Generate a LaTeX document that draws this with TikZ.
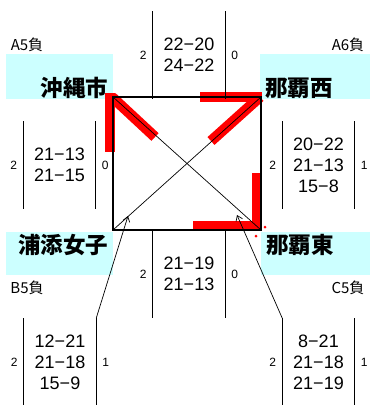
\documentclass[tikz,border=0pt]{standalone}
\usepackage{fontspec}
\setmainfont{Liberation Sans}
\newfontfamily\jpfont{Noto Sans CJK JP}
\usetikzlibrary{arrows.meta}
\definecolor{teamcyan}{RGB}{204,255,255}

\begin{document}
\begin{tikzpicture}[x=1pt,y=-1pt,>={Straight Barb[length=5pt,width=7pt]},
  team/.style={fill=teamcyan,inner xsep=5pt,inner ysep=0pt,anchor=north west,
    font=\jpfont\bfseries\fontsize{22.5}{24}\selectfont},
  score/.style={inner sep=0pt,minimum width=72pt,minimum height=87pt,align=center,
    font=\fontsize{18}{21}\selectfont},
  count/.style={inner xsep=6pt,inner ysep=0pt,font=\fontsize{12}{14}\selectfont},
  lose/.style={font=\jpfont\fontsize{15}{17}\selectfont},
  sep/.style={line width=0.8pt},
  win/.style={red,line width=10.5pt}]
\useasboundingbox (0,0) rectangle (370,405);

\node[team,text width=97pt,align=right,minimum height=45pt,text height=40pt,text depth=0pt] (oki) at (6,54) {沖縄市};
\node[team,text width=100pt,align=left,minimum height=45pt,text height=40pt,text depth=0pt] (nishi) at (260,54) {那覇西};
\node[team,text width=97pt,align=right,minimum height=43pt,text height=20pt,text depth=20pt] (ura) at (6,232) {浦添女子};
\node[team,text width=99pt,align=left,minimum height=43pt,text height=20pt,text depth=20pt] (higa) at (261,232) {那覇東};

\node[lose] (a5) at (27,45) {A5負};
\node[lose] (a6) at (348,45) {A6負};
\node[lose] (b5) at (27,288) {B5負};
\node[lose] (c5) at (348,288) {C5負};

\coordinate (okiC) at (113,97);
\coordinate (nishiC) at (261,97);
\coordinate (uraC) at (113,230);
\coordinate (higaC) at (261,230);
\coordinate (tipL) at (128,216);
\coordinate (tipR) at (237,215);

\draw[win] (110,93) -- (110,152);
\draw[win] (112,97) -- (155,137);
\draw[win] (200,97) -- (262,97);
\draw[win] (260,97) -- (211,141);
\draw[win,miter limit=4] (257,173) -- (257,226) -- (193,226);
\fill[red] (265,227) circle (1.5pt);
\fill[red] (256,236) circle (1.5pt);

\draw[line width=0.7pt] (okiC) -- (higaC);
\draw[line width=0.7pt] (nishiC) -- (uraC);
\draw[line width=2pt] (okiC) rectangle (higaC);

\node[score] (mTop) at (189,55) {22−20\\24−22};
\node[score] (mLeft) at (59.5,165) {21−13\\21−15};
\node[score] (mRight) at (318.5,165) {20−22\\21−13\\15−8};
\node[score] (mBot) at (189,274) {21−19\\21−13};
\node[score] (mBL) at (60,362) {12−21\\21−18\\15−9};
\node[score] (mBR) at (318.5,362) {8−21\\21−18\\21−19};

\foreach \m in {mTop,mLeft,mRight,mBot,mBL,mBR}
  \draw[sep] (\m.north west) -- (\m.south west) (\m.north east) -- (\m.south east);

\node[count,anchor=east] (cTopL) at (mTop.west) {2};
\node[count,anchor=west] (cTopR) at (mTop.east) {0};
\node[count,anchor=east] (cLeftL) at (mLeft.west) {2};
\node[count,anchor=west] (cLeftR) at (mLeft.east) {0};
\node[count,anchor=east] (cRightL) at (mRight.west) {2};
\node[count,anchor=west] (cRightR) at (mRight.east) {1};
\node[count,anchor=east] (cBotL) at (mBot.west) {2};
\node[count,anchor=west] (cBotR) at (mBot.east) {0};
\node[count,anchor=east] (cBLL) at (mBL.west) {2};
\node[count,anchor=west] (cBLR) at (mBL.east) {1};
\node[count,anchor=east] (cBRL) at (mBR.west) {2};
\node[count,anchor=west] (cBRR) at (mBR.east) {1};

\draw[->,line width=0.7pt] (mBL.north east) -- (tipL);
\draw[->,line width=0.7pt] (mBR.north west) -- (tipR);
\end{tikzpicture}
\end{document}
